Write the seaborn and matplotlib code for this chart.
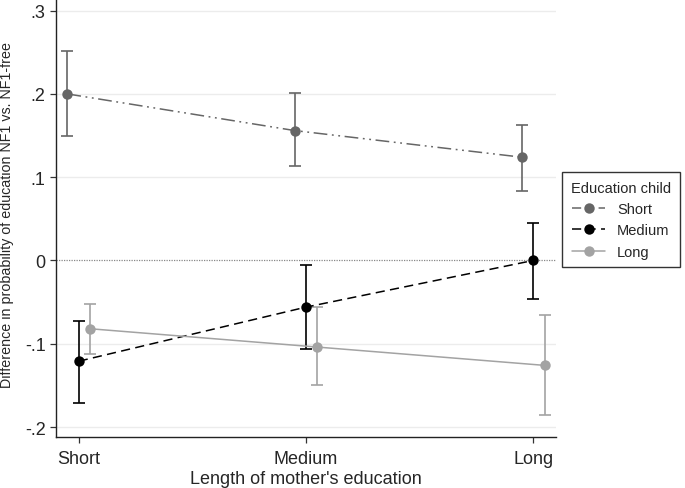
import pandas as pd
import numpy as np
import matplotlib
matplotlib.use("Agg")
import matplotlib.pyplot as plt
import seaborn as sns

# values
mother_edu = ["Short", "Medium", "Long"]
child_edu = ["Short", "Medium", "Long"]
est_short = [0.200, 0.156, 0.124]
lo_short = [0.150, 0.113, 0.084]
hi_short = [0.252, 0.201, 0.163]
est_medium = [-0.121, -0.056, 0.000]
lo_medium = [-0.171, -0.106, -0.046]
hi_medium = [-0.073, -0.005, 0.045]
est_long = [-0.082, -0.104, -0.126]
lo_long = [-0.112, -0.150, -0.186]
hi_long = [-0.052, -0.056, -0.066]
y_ticks = [0.3, 0.2, 0.1, 0.0, -0.1, -0.2]
y_tick_labels = [".3", ".2", ".1", "0", "-.1", "-.2"]

colors = {"Short": "#666666", "Medium": "#000000", "Long": "#a3a3a3"}
dashes = {"Short": (9, 3, 1.2, 3, 1.2, 3), "Medium": (6, 3.5), "Long": ""}
offsets = {"Short": -0.05, "Medium": 0.0, "Long": 0.05}

rows = []
series = {"Short": (est_short, lo_short, hi_short),
          "Medium": (est_medium, lo_medium, hi_medium),
          "Long": (est_long, lo_long, hi_long)}
for child in child_edu:
    est, lo, hi = series[child]
    for i, m in enumerate(mother_edu):
        rows.append({"child": child, "mother": m, "x": i + offsets[child],
                     "est": est[i], "lo": lo[i], "hi": hi[i]})
df = pd.DataFrame(rows)

sns.set_style("white")
plt.rcParams["font.family"] = ["Liberation Sans", "DejaVu Sans"]

fig = plt.figure(figsize=(6.85, 4.89), dpi=100)
ax = fig.add_axes([0.0818, 0.1043, 0.7299, 0.8957])

for y in y_ticks:
    if y == 0:
        ax.axhline(0, color="#888888", lw=0.9, ls=(0, (1, 1)), zorder=1)
    else:
        ax.axhline(y, color="#ececec", lw=1.0, zorder=0)

sns.lineplot(data=df, x="x", y="est", hue="child", style="child",
             hue_order=child_edu, style_order=child_edu, palette=colors,
             dashes=dashes, markers={c: "o" for c in child_edu},
             markersize=7.5, markeredgewidth=0, lw=1.1, ax=ax, legend=False,
             zorder=3)

for child in child_edu:
    d = df[df["child"] == child]
    ax.errorbar(d["x"], d["est"], yerr=[d["est"] - d["lo"], d["hi"] - d["est"]],
                fmt="none", ecolor=colors[child], elinewidth=1.2, capsize=4.5,
                capthick=1.2, zorder=2)

ax.set_xlim(-0.1, 2.1)
ax.set_ylim(-0.212, 0.314)
ax.set_xticks(range(len(mother_edu)))
ax.set_xticklabels(mother_edu)
ax.set_yticks(y_ticks)
ax.set_yticklabels(y_tick_labels)
ax.tick_params(axis="both", labelsize=13, length=4.5, width=0.9, direction="out",
               left=True, bottom=True, color="#333333", pad=3)
ax.tick_params(axis="x", pad=5)
ax.set_xlabel("Length of mother's education", fontsize=13, labelpad=2)
ax.set_ylabel("Difference in probability of education NF1 vs. NF1-free",
              fontsize=10.3)
ax.yaxis.set_label_coords(-0.084, 0.509)
for s in ["top", "right"]:
    ax.spines[s].set_visible(False)
for s in ["left", "bottom"]:
    ax.spines[s].set_color("#222222")
    ax.spines[s].set_linewidth(1.0)

legend_ls = {"Short": (3, (9, 3, 1.2, 3, 1.2, 3)), "Medium": (0, (6, 3.5)),
             "Long": "-"}
handles = []
for child in child_edu:
    h, = ax.plot([], [], color=colors[child], marker="o", markersize=7.5,
                 markeredgewidth=0, lw=1.1, ls=legend_ls[child])
    handles.append(h)
leg = fig.legend(handles, child_edu, title="Education child",
                 loc="upper left", bbox_to_anchor=(0.8204, 0.646),
                 borderaxespad=0, frameon=True, fancybox=False,
                 edgecolor="black", fontsize=10.5, title_fontsize=10.5,
                 handlelength=2.3, handletextpad=0.8, borderpad=0.6,
                 labelspacing=0.5)
leg.get_frame().set_linewidth(1.0)

fig.savefig("out.png", dpi=100)
